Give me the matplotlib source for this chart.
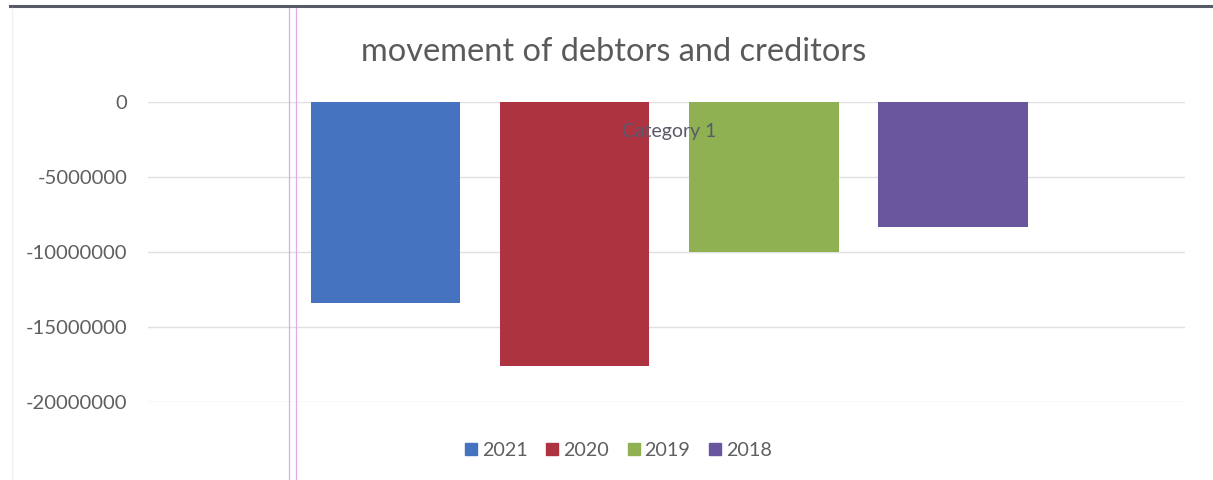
import matplotlib
matplotlib.use("Agg")
import matplotlib.pyplot as plt
from matplotlib.lines import Line2D
from matplotlib.ticker import FuncFormatter

plt.rcParams["font.family"] = ["Lato", "DejaVu Sans"]
plt.rcParams["axes.unicode_minus"] = False

title = "movement of debtors and creditors"
category = "Category 1"
series = ["2021", "2020", "2019", "2018"]
values = [-13400000, -17600000, -10000000, -8300000]
colors = ["#4673c0", "#ad3341", "#8fb152", "#6a559f"]
yticks = [0, -5000000, -10000000, -15000000, -20000000]

W, H = 1213, 480
fig = plt.figure(figsize=(W / 100, H / 100), dpi=100)
fig.patch.set_facecolor("white")

# plot area in pixel units
left, right, top, bottom = 148, 1185, 102, 402
ax = fig.add_axes([left / W, 1 - bottom / H, (right - left) / W, (bottom - top) / H])

spacing = 1.0
width = 0.79
offsets = [(i - (len(series) - 1) / 2) * spacing for i in range(len(series))]
for off, v, c, s in zip(offsets, values, colors, series):
    ax.bar(off, v, width=width, color=c, label=s, zorder=2)

ax.set_xlim(-2.755, 2.725)
ax.set_ylim(-20000000, 0)
ax.set_yticks(yticks)
ax.yaxis.set_major_formatter(FuncFormatter(lambda v, p: f"{int(round(v))}"))
ax.tick_params(axis="y", length=0, pad=15, labelsize=14.6, labelcolor="#5f5f5f")
ax.set_xticks([])
for sp in ax.spines.values():
    sp.set_visible(False)
ax.grid(axis="y", color="#e0e0e0", linewidth=1, zorder=0)
ax.set_axisbelow(True)

# category label placed beside the horizontal axis at zero
ax.text(0, -1950000, category, ha="center", va="center", fontsize=14,
        color="#5a5a6a", zorder=5)

fig.text(614 / W, 1 - 52 / H, title, ha="center", va="center",
         fontsize=23.4, color="#5a5a5a")

handles = [Line2D([], [], marker="s", linestyle="none", markersize=8.5,
                  markerfacecolor=c, markeredgecolor=c) for c in colors]
fig.legend(handles, series, loc="center", bbox_to_anchor=(617 / W, 1 - 450 / H),
           ncol=4, frameon=False, fontsize=14.2, labelcolor="#5f5f5f",
           handletextpad=0.1, columnspacing=0.8, handlelength=0.9)

# page rule above the chart and page-margin guides
fig.add_artist(Line2D([10 / W, 1], [1 - 6 / H, 1 - 6 / H], color="#555a66",
                      linewidth=2.2, transform=fig.transFigure))
for xp in (289, 296):
    fig.add_artist(Line2D([xp / W, xp / W], [0, 1 - 8 / H], color="#e8a8e8",
                          linewidth=0.9, transform=fig.transFigure))
fig.add_artist(Line2D([12 / W, 12 / W], [0, 1 - 8 / H], color="#f0f0f0",
                      linewidth=1, transform=fig.transFigure))

fig.savefig("out.png", dpi=100)
